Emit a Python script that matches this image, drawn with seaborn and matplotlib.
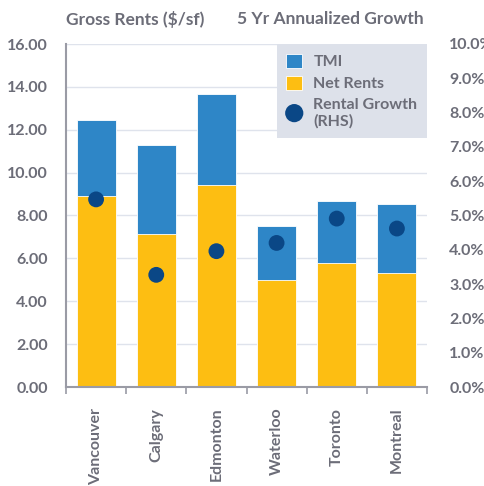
import matplotlib
matplotlib.use("Agg")
import matplotlib.pyplot as plt
import seaborn as sns
import pandas as pd
from matplotlib.ticker import FuncFormatter, FixedLocator

cities = ["Vancouver", "Calgary", "Edmonton", "Waterloo", "Toronto", "Montreal"]
gross_rents = [12.45, 11.27, 13.65, 7.52, 8.66, 8.55]
net_rents = [8.90, 7.14, 9.40, 4.98, 5.77, 5.32]
rental_growth = [5.47, 3.27, 3.96, 4.20, 4.91, 4.62]

C_TMI = "#2E86C7"
C_NET = "#FDBE12"
C_DOT = "#0A4786"
C_TXT = "#6C6D78"
C_GRID = "#DFE3EC"
C_SPINE = "#9A9BA5"
FW = "bold"

sns.set_theme(style="white")
plt.rcParams["font.family"] = ["Lato", "DejaVu Sans"]
plt.rcParams["font.weight"] = FW

df = pd.DataFrame({"city": cities, "gross": gross_rents, "net": net_rents,
                   "growth": rental_growth})

fig = plt.figure(figsize=(4.84, 4.86), dpi=100)
ax = fig.add_axes([66/484, 1 - 387/486, (427-66)/484, (387-44)/486])

sns.barplot(data=df, x="city", y="gross", color=C_TMI, width=0.65,
            saturation=1, ax=ax, label="TMI", edgecolor="white", linewidth=0.6)
sns.barplot(data=df, x="city", y="net", color=C_NET, width=0.65,
            saturation=1, ax=ax, label="Net Rents", edgecolor="white", linewidth=0.6)

ax.set_ylim(0, 16)
ax.set_xlim(-0.5, 5.5)
ax.set_yticks(range(0, 17, 2))
ax.yaxis.set_major_formatter(FuncFormatter(lambda v, p: f"{v:.2f}"))
ax.grid(axis="y", color=C_GRID, linewidth=1)
ax.set_axisbelow(True)
ax.set_xlabel("")
ax.set_ylabel("")
for s in ["top", "right"]:
    ax.spines[s].set_visible(False)
for s in ["left", "bottom"]:
    ax.spines[s].set_color(C_SPINE)
    ax.spines[s].set_linewidth(1.5)
ax.tick_params(axis="y", length=0, pad=13, labelsize=11.5, labelcolor=C_TXT)
ax.tick_params(axis="x", which="major", length=0, pad=15, labelsize=11.5,
               labelcolor=C_TXT, rotation=90)
ax.xaxis.set_minor_locator(FixedLocator([i - 0.5 for i in range(7)]))
ax.tick_params(axis="x", which="minor", length=5, width=1.2, color=C_SPINE,
               direction="out", bottom=True)
for lab in ax.get_xticklabels():
    lab.set_verticalalignment("top")

ax2 = ax.twinx()
sns.scatterplot(data=df, x="city", y="growth", color=C_DOT, s=130,
                edgecolor="none", ax=ax2, label="Rental Growth\n(RHS)", zorder=5)
ax2.set_ylim(0, 10)
ax2.set_yticks(range(0, 11))
ax2.yaxis.set_major_formatter(FuncFormatter(lambda v, p: f"{v:.1f}%"))
ax2.tick_params(axis="y", length=0, pad=16, labelsize=11.5, labelcolor=C_TXT)
ax2.set_ylabel("")
for s in ["top", "right", "left", "bottom"]:
    ax2.spines[s].set_visible(False)

h1, l1 = ax.get_legend_handles_labels()
h2, l2 = ax2.get_legend_handles_labels()
if ax2.get_legend():
    ax2.get_legend().remove()
if ax.get_legend():
    ax.get_legend().remove()
leg = ax2.legend(h1 + h2, l1 + l2, loc="upper right", bbox_to_anchor=(1.0, 1.0),
                 frameon=True, fancybox=False, facecolor="#DDE1EA", edgecolor="none",
                 framealpha=1, fontsize=11.5, labelcolor=C_TXT, handlelength=1.0,
                 handleheight=1.0, borderpad=0.6, labelspacing=0.4, handletextpad=0.7,
                 borderaxespad=0, markerscale=1.15)
for t in leg.get_texts():
    t.set_fontweight(FW)

fig.text(66/484, 1 - 19/486, "Gross Rents ($/sf)", fontsize=12.5, color=C_TXT,
         fontweight=FW, va="center", ha="left")
fig.text(424/484, 1 - 19/486, "5 Yr Annualized Growth", fontsize=12.5, color=C_TXT,
         fontweight=FW, va="center", ha="right")

fig.savefig("out.png", dpi=100)
